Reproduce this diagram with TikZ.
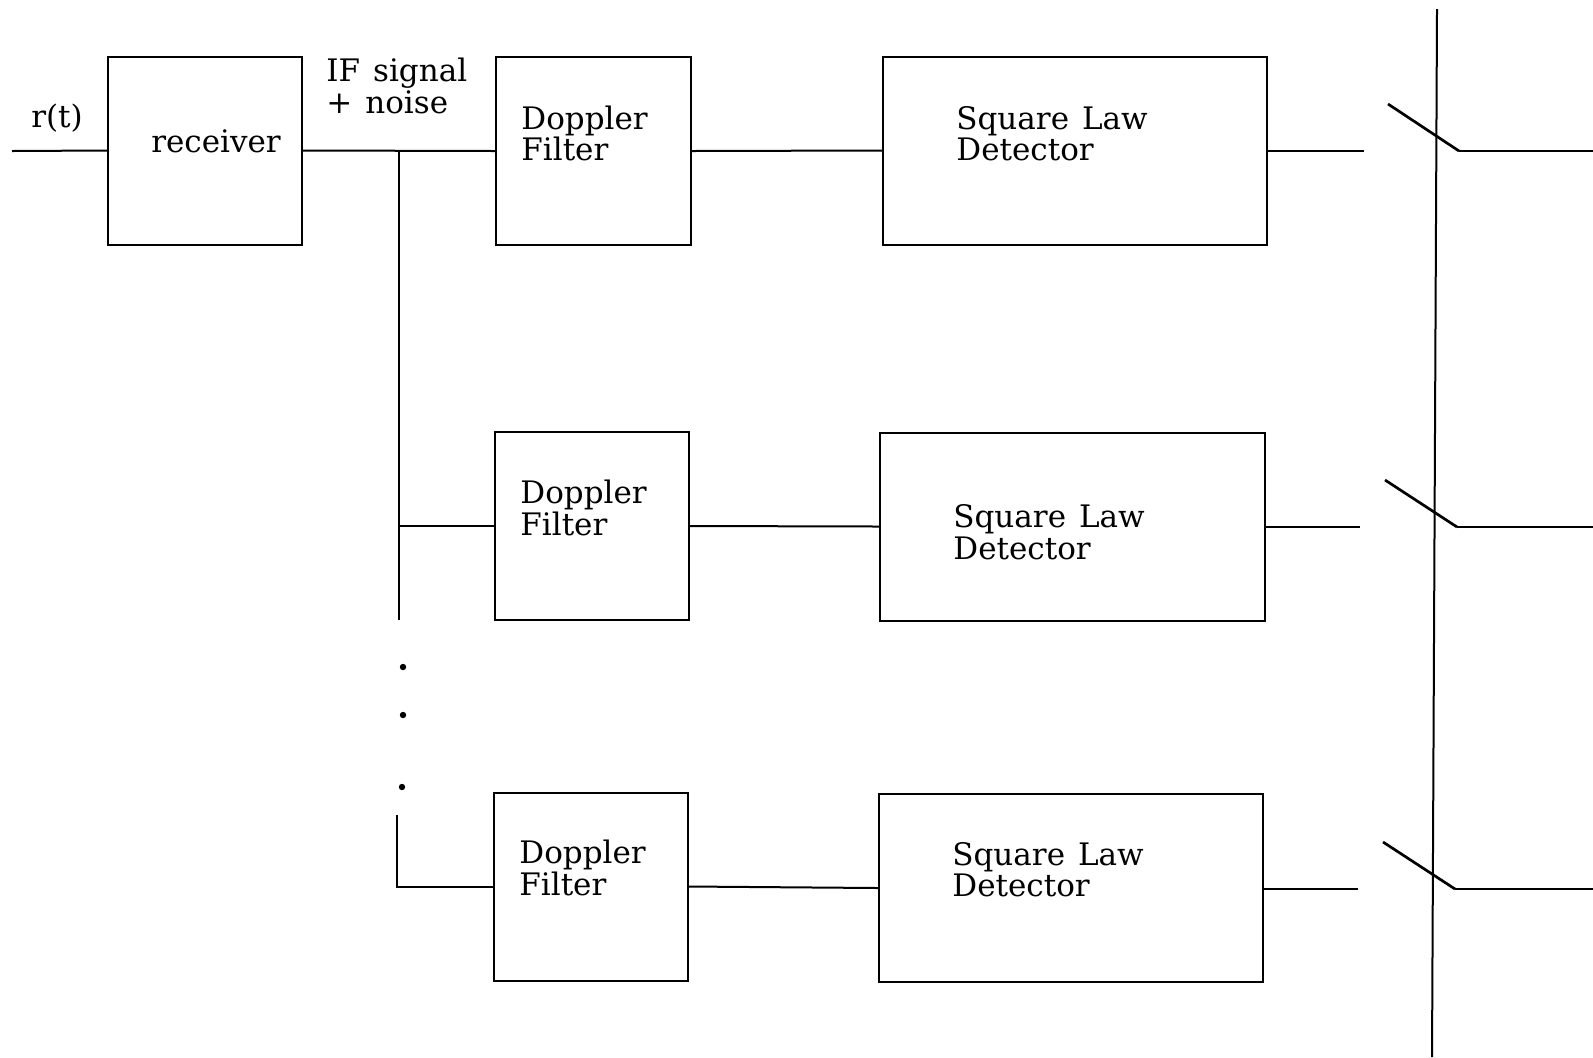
\documentclass[tikz,border=0pt]{standalone}
\usepackage{fontspec}
\setmainfont{DejaVu Serif}
\newcommand\wgap{\hspace{0.42em}}
\begin{document}
\begin{tikzpicture}[x=0.5pt,y=-0.5pt,
  wire/.style={line width=1pt},
  blade/.style={line width=1.35pt},
  blk/.style={draw,line width=1pt,inner sep=0pt,minimum width=#1*0.5pt,minimum height=94pt},
  lbl/.style={inner sep=0pt,align=left,anchor=west,
    font=\fontsize{15.5}{15.75}\selectfont},
  dot/.style={circle,fill,inner sep=0pt,minimum size=3.2pt}]
\useasboundingbox (0,0) rectangle (1593,1057);

% receiver
\node[blk=194] (rx) at (205,150.5) {};
\node[lbl,anchor=center] (rt) at (57,118) {r(t)};
\node[lbl,anchor=center] (rxt) at (216,141) {receiver};
\node[lbl] (ift) at (326,86) {IF\wgap signal\\+\wgap noise};
\coordinate (in) at (12,151);
\draw[wire] (in) -- (rx.west);

% Doppler filters
\node[blk=195] (df1) at (593.5,151) {};
\node[blk=194] (df2) at (592,526) {};
\node[blk=194] (df3) at (591,886.5) {};
\node[lbl] (df1t) at (521,133.5) {Doppler\\Filter};
\node[lbl] (df2t) at (520,508) {Doppler\\Filter};
\node[lbl] (df3t) at (519,868) {Doppler\\Filter};

% square law detectors
\node[blk=384] (sl1) at (1075,150.5) {};
\node[blk=385] (sl2) at (1072.5,526.5) {};
\node[blk=384] (sl3) at (1071,888) {};
\node[lbl] (sl1t) at (956,133.5) {Square\wgap Law\\Detector};
\node[lbl] (sl2t) at (953,532) {Square\wgap Law\\Detector};
\node[lbl] (sl3t) at (952,869.5) {Square\wgap Law\\Detector};

% distribution bus
\coordinate (b1) at (399,151);
\coordinate (b2) at (399,620);
\coordinate (b3) at (397,815);
\draw[wire] (rx.east) -- (df1.west);
\draw[wire] (b1) -- (b2);
\draw[wire] (b1 |- df2.west) -- (df2.west);
\draw[wire] (b3) |- (df3.west);
\node[dot] (d1) at (403,667) {};
\node[dot] (d2) at (403,715) {};
\node[dot] (d3) at (402,787) {};

% filter to detector
\draw[wire] (df1.east) -- (sl1.west);
\draw[wire] (df2.east) -- (sl2.west);
\draw[wire] (df3.east) -- (sl3.west);

% detector outputs and sampling switches
\coordinate (o1) at (1364,151);
\coordinate (o2) at (1360,527);
\coordinate (o3) at (1358,889);
\draw[wire] (sl1.east |- o1) -- (o1);
\draw[wire] (sl2.east |- o2) -- (o2);
\draw[wire] (sl3.east |- o3) -- (o3);

\coordinate (s1a) at (1388,104);
\coordinate (s1b) at (1459,151);
\coordinate (s2a) at (1385,480);
\coordinate (s2b) at (1457,527);
\coordinate (s3a) at (1383,842);
\coordinate (s3b) at (1455,889);
\draw[blade] (s1a) -- (s1b);
\draw[blade] (s2a) -- (s2b);
\draw[blade] (s3a) -- (s3b);
\draw[wire] (s1b) -- (1593,151);
\draw[wire] (s2b) -- (1593,527);
\draw[wire] (s3b) -- (1593,889);

% common actuator line
\coordinate (vt) at (1437,9);
\coordinate (vb) at (1432,1057);
\draw[wire] (vt) -- (vb);
\end{tikzpicture}
\end{document}
